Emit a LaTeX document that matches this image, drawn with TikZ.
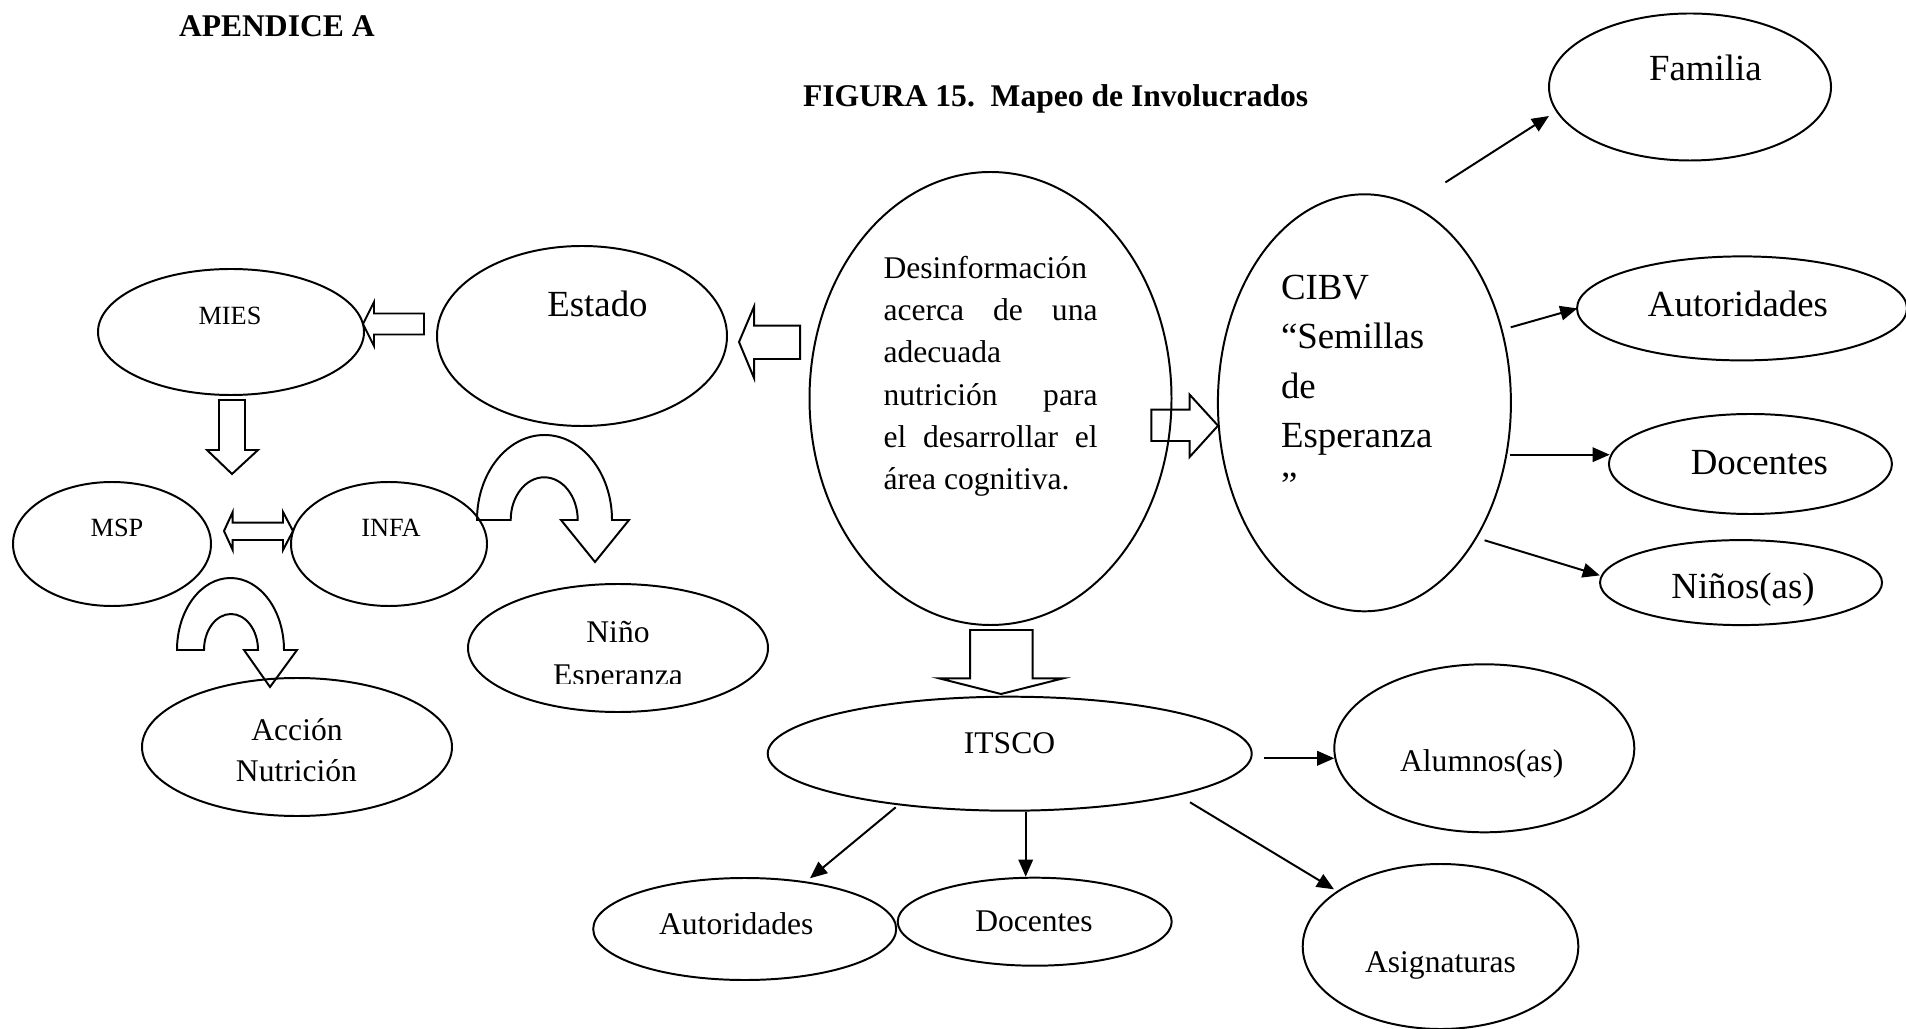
\documentclass[tikz,border=0pt]{standalone}
\usepackage{fontspec}
\setmainfont{Liberation Serif}
\usetikzlibrary{shapes.geometric,arrows.meta}
\newcommand\szTen{\fontsize{10}{12}\selectfont}
\newcommand\szTwelve{\fontsize{12}{14}\selectfont}
\newcommand\szFourteen{\fontsize{14}{16}\selectfont}
\begin{document}
\begin{tikzpicture}[x=0.38pt, y=-0.38pt, line width=0.75pt,
  ell/.style 2 args={ellipse, draw, minimum width=#1*0.38pt, minimum height=#2*0.38pt, inner sep=0pt, outer sep=0pt},
  lbl/.style={inner sep=0pt, outer sep=0pt, anchor=base},
  lblw/.style={inner sep=0pt, outer sep=0pt, anchor=base west},
  arr/.style={-{Triangle[length=6.5pt,width=5.5pt]}, line width=0.75pt},
  blk/.style={draw, line width=0.75pt, line join=miter}]
\useasboundingbox (0,0) rectangle (1906,1029);

% titles
\node[lblw, font=\szTwelve\bfseries] (apx) at (179,36.7) {APENDICE A};
\node[lblw, font=\szTwelve\bfseries] (fig) at (803,106.7) {FIGURA 15.\ \ Mapeo de Involucrados};

% ellipses
\node[ell={282}{147}] (fam) at (1690,87) {};
\node[ell={330}{104}] (autR) at (1742,308.4) {};
\node[ell={283}{100}] (docR) at (1750.4,464) {};
\node[ell={282}{85}] (ninR) at (1741,582.6) {};
\node[ell={293}{417}] (cibv) at (1364.4,402.8) {};
\node[ell={362}{453}] (cen) at (990.5,398.5) {};
\node[ell={290}{180}] (est) at (582,336) {};
\node[ell={266}{126}] (mies) at (231,332) {};
\node[ell={198}{124}] (msp) at (112,544) {};
\node[ell={196}{124}] (infa) at (389,544) {};
\node[ell={300}{128}] (nino) at (618,648) {};
\node[ell={310}{138}] (acc) at (297,747) {};
\node[ell={484}{114}] (itsco) at (1009.7,753.7) {};
\node[ell={300}{168}] (alum) at (1484.3,748.3) {};
\node[ell={275.6}{165}] (asig) at (1440.5,946.5) {};
\node[ell={303}{102}] (autB) at (744.7,929) {};
\node[ell={274}{88}] (docB) at (1034.7,921.7) {};

% texts
\node[lbl, font=\szFourteen] (tfam) at (1705.4,81) {Familia};
\node[lbl, font=\szFourteen] (tautR) at (1738,317) {Autoridades};
\node[lbl, font=\szFourteen] (tdocR) at (1759.4,475) {Docentes};
\node[lbl, font=\szFourteen] (tninR) at (1743,598) {Niños(as)};
\node[lbl, font=\szFourteen] (test) at (597.5,317) {Estado};
\node[lbl, font=\szTen] (tmies) at (230,325) {MIES};
\node[lbl, font=\szTen] (tmsp) at (117,537) {MSP};
\node[lbl, font=\szTen] (tinfa) at (391,537) {INFA};
\node[lbl, font=\szTwelve] (tnino) at (618,643) {Niño};
\begin{scope}
\clip (440,600) rectangle (800,683.5);
\node[lbl, font=\szTwelve] (tesp) at (618,685.5) {Esperanza};
\end{scope}
\node[lbl, font=\szTwelve] (tacc1) at (297,740) {Acción};
\node[lbl, font=\szTwelve] (tacc2) at (296.5,781.7) {Nutrición};
\node[lbl, font=\szTwelve] (titsco) at (1009.5,753) {ITSCO};
\node[lbl, font=\szTwelve] (talum) at (1481.7,771) {Alumnos(as)};
\node[lbl, font=\szTwelve] (tautB) at (736.3,934) {Autoridades};
\node[lbl, font=\szTwelve] (tdocB) at (1034,931.7) {Docentes};
\node[lbl, font=\szTwelve] (tasig) at (1440.5,972.3) {Asignaturas};

% central text
\node[lblw, font=\szTwelve] (c1) at (883.6,278.6) {\makebox[81.3pt][l]{Desinformación}};
\node[lblw, font=\szTwelve] (c2) at (883.6,320.7) {\makebox[81.3pt][s]{acerca de una}};
\node[lblw, font=\szTwelve] (c3) at (883.6,362.5) {\makebox[81.3pt][l]{adecuada}};
\node[lblw, font=\szTwelve] (c4) at (883.6,405.4) {\makebox[81.3pt][s]{nutrición para}};
\node[lblw, font=\szTwelve] (c5) at (883.6,447.5) {\makebox[81.3pt][s]{el desarrollar el}};
\node[lblw, font=\szTwelve] (c6) at (883.6,489.3) {\makebox[81.3pt][l]{área cognitiva.}};

% CIBV text
\node[lblw, font=\szFourteen] (b1) at (1281,299.4) {CIBV};
\node[lblw, font=\szFourteen] (b2) at (1281,349) {“Semillas};
\node[lblw, font=\szFourteen] (b3) at (1281,398.5) {de};
\node[lblw, font=\szFourteen] (b4) at (1281,448) {Esperanza};
\node[lblw, font=\szFourteen] (b5) at (1281,497.5) {”};

% connector coordinates
\coordinate (s1) at (1445.4,182.4); \coordinate (e1) at (1549,116);
\coordinate (s2) at (1510.7,327.3); \coordinate (e2) at (1577.3,308.4);
\coordinate (s3) at (1509.8,454.7); \coordinate (e3) at (1609.7,454.7);
\coordinate (s4) at (1484.6,540.3); \coordinate (e4) at (1599.8,575.4);
\coordinate (s5) at (1264.3,758.3); \coordinate (e5) at (1334.3,758.3);
\coordinate (s6) at (895.7,807.3);  \coordinate (e6) at (810,878.3);
\coordinate (s7) at (1025.7,812.3); \coordinate (e7) at (1025.7,876.7);
\coordinate (s8) at (1190,802.3);   \coordinate (e8) at (1334,889.3);
\draw[arr] (s1) -- (e1);
\draw[arr] (s2) -- (e2);
\draw[arr] (s3) -- (e3);
\draw[arr] (s4) -- (e4);
\draw[arr] (s5) -- (e5);
\draw[arr] (s6) -- (e6);
\draw[arr] (s7) -- (e7);
\draw[arr] (s8) -- (e8);

% block arrows
% Estado -> MIES
\draw[blk] (424,313.5) -- (374,313.5) -- (374,302) -- (363,324) -- (374,346) -- (374,334.5) -- (424,334.5) -- cycle;
% central -> Estado
\draw[blk] (800,325.7) -- (754,325.7) -- (754,306.7) -- (739,342) -- (754,378) -- (754,359) -- (800,359) -- cycle;
% central -> CIBV
\draw[blk] (1151.4,409.6) -- (1189.6,409.6) -- (1189.6,394.6) -- (1218,425.7) -- (1189.6,457) -- (1189.6,441) -- (1151.4,441) -- cycle;
% MIES down
\draw[blk] (219,400) -- (245,400) -- (245,450) -- (258,450) -- (232,474) -- (207,450) -- (219,450) -- cycle;
% central down to ITSCO
\draw[blk] (970,630) -- (1032.7,630) -- (1032.7,678.3) -- (1063.3,678.3) -- (1001,694) -- (939,678.3) -- (970,678.3) -- cycle;
% MSP <-> INFA
\draw[blk] (224,531) -- (232.7,512) -- (232.7,522.7) -- (283,522.7) -- (283,512) -- (293,531) -- (283,550) -- (283,540) -- (232.7,540) -- (232.7,550) -- cycle;
% INFA u-turn
\draw[blk] (477,520) arc[start angle=180, end angle=360, x radius=67.5, y radius=85]
  -- (629,520) -- (595,562) -- (561,520) -- (577.7,520)
  arc[start angle=0, end angle=-180, x radius=33.5, y radius=42.7] -- cycle;
% MSP u-turn
\draw[blk] (177,650) arc[start angle=180, end angle=360, x radius=53.5, y radius=72]
  -- (297,650) -- (270,687) -- (244,650) -- (258,650)
  arc[start angle=0, end angle=-180, x radius=27, y radius=36] -- cycle;
\end{tikzpicture}
\end{document}
